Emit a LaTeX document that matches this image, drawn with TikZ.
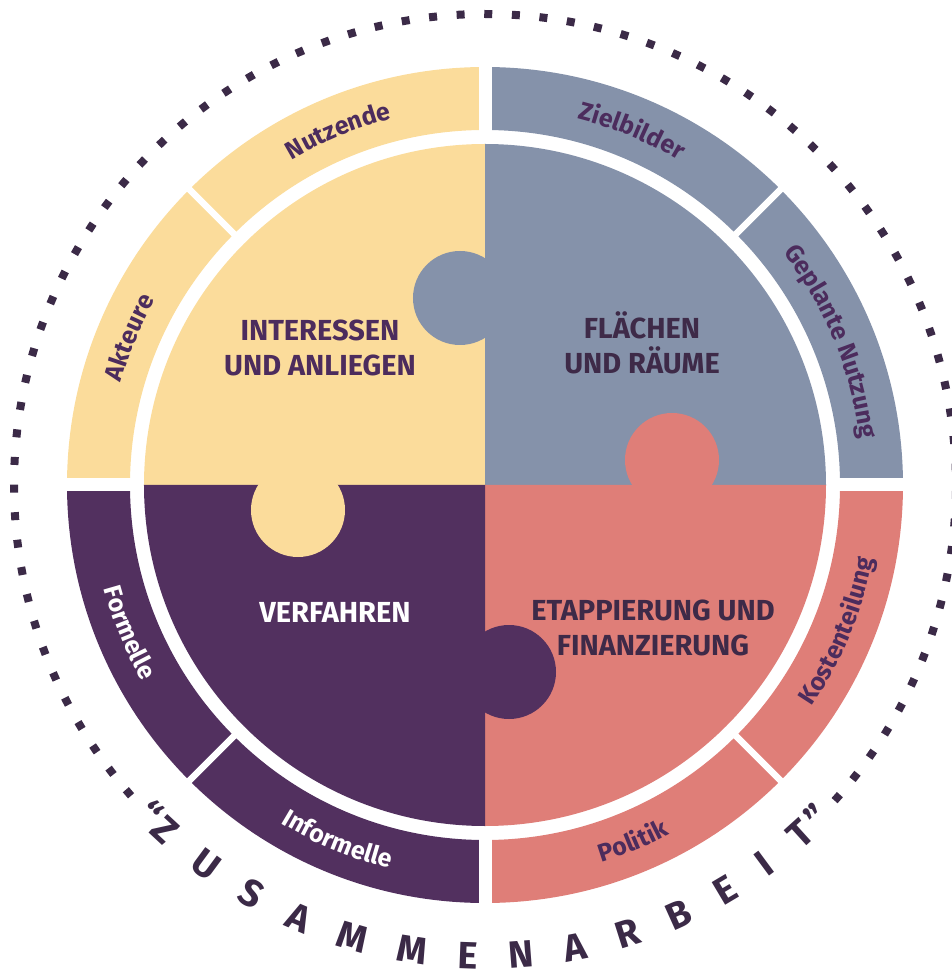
\documentclass[tikz,border=0pt]{standalone}
\usepackage{fontspec}
\setmainfont{Fira Sans}
\usetikzlibrary{decorations.text}

\definecolor{sand}{HTML}{FBDC9B}
\definecolor{slate}{HTML}{8592AA}
\definecolor{salmon}{HTML}{DF7E78}
\definecolor{plum}{HTML}{52305F}
\definecolor{ink}{HTML}{4C2C5D}
\definecolor{inkdark}{HTML}{3E2A48}
\definecolor{dotc}{HTML}{3B2A47}

\newcommand{\labelfont}{\fontsize{29}{35}\selectfont\bfseries}
\newcommand{\ringfont}{\fontsize{25}{25}\selectfont\bfseries}
\newcommand{\bandfont}{\fontsize{38}{38}\selectfont\bfseries}

\begin{document}
\begin{tikzpicture}[x=1pt,y=1pt]
\tikzstyle{every node}=[]
\tikzstyle{title}=[font=\labelfont, align=center, text=ink]
\tikzstyle{dotsq}=[fill=dotc, inner sep=0pt, minimum size=8pt]
\tikzstyle{quote}=[font=\bandfont, text=dotc, anchor=base, inner sep=0pt]
\tikzstyle{gap}=[white, line width=13pt]
\tikzstyle{cut}=[white, line width=6.5pt]

\useasboundingbox (-485,-489) rectangle (467,485);

\fill[sand] (90:355) arc[start angle=90, end angle=180, radius=355] -- (180:418) arc[start angle=180, end angle=90, radius=418] -- cycle;
\fill[slate] (0:355) arc[start angle=0, end angle=90, radius=355] -- (90:418) arc[start angle=90, end angle=0, radius=418] -- cycle;
\fill[salmon] (270:355) arc[start angle=270, end angle=360, radius=355] -- (0:418) arc[start angle=360, end angle=270, radius=418] -- cycle;
\fill[plum] (180:355) arc[start angle=180, end angle=270, radius=355] -- (270:418) arc[start angle=270, end angle=180, radius=418] -- cycle;

\draw[gap] (90:345) -- (90:425);
\draw[gap] (0:345) -- (0:425);
\draw[gap] (180:345) -- (180:425);
\draw[gap] (270:345) -- (270:425);
\draw[cut] (45:345) -- (45:425);
\draw[cut] (135:345) -- (135:425);
\draw[cut] (225:345) -- (225:425);
\draw[cut] (315:345) -- (315:425);

\fill[sand] (0,0) -- (90:341) arc[start angle=90, end angle=180, radius=341] -- cycle;
\fill[slate] (0,0) -- (0:341) arc[start angle=0, end angle=90, radius=341] -- cycle;
\fill[salmon] (0,0) -- (270:341) arc[start angle=270, end angle=360, radius=341] -- cycle;
\fill[plum] (0,0) -- (180:341) arc[start angle=180, end angle=270, radius=341] -- cycle;

\fill[slate] (-25,187) circle[radius=47];
\fill[salmon] (187,25) circle[radius=47];
\fill[sand] (-187,-25) circle[radius=47];
\fill[plum] (24,-187) circle[radius=47];

\node[title] (interessen) at (-165,137) {INTERESSEN\\UND ANLIEGEN};
\node[title, text=inkdark] (flaechen) at (157,142) {FLÄCHEN\\UND RÄUME};
\node[title, text=white] (verfahren) at (-150,-127) {VERFAHREN};
\node[title, text=inkdark] (etappierung) at (168,-143) {ETAPPIERUNG UND\\FINANZIERUNG};

\path[decorate, decoration={text along path, text align=center, text={|\ringfont\color{ink}|Nutzende}}] (132.5:378) arc[start angle=132.5, end angle=92.5, radius=378];
\path[decorate, decoration={text along path, text align=center, text={|\ringfont\color{ink}|Akteure}}] (177.5:378) arc[start angle=177.5, end angle=137.5, radius=378];
\path[decorate, decoration={text along path, text align=center, text={|\ringfont\color{ink}|Zielbilder}}] (87.5:378) arc[start angle=87.5, end angle=47.5, radius=378];
\path[decorate, decoration={text along path, text align=center, text={|\ringfont\color{ink}|Geplante Nutzung}}] (42.5:378) arc[start angle=42.5, end angle=2.5, radius=378];
\path[decorate, decoration={text along path, text align=center, text={|\ringfont\color{white}|Formelle}}] (182.5:395) arc[start angle=182.5, end angle=222.5, radius=395];
\path[decorate, decoration={text along path, text align=center, text={|\ringfont\color{white}|Informelle}}] (227.5:395) arc[start angle=227.5, end angle=267.5, radius=395];
\path[decorate, decoration={text along path, text align=center, text={|\ringfont\color{ink}|Politik}}] (272.5:395) arc[start angle=272.5, end angle=312.5, radius=395];
\path[decorate, decoration={text along path, text align=center, text={|\ringfont\color{ink}|Kostenteilung}}] (317.5:395) arc[start angle=317.5, end angle=357.5, radius=395];

\foreach \i in {0,...,78}
  \node[dotsq, rotate={220.8-\i*3.364}] (dot\i) at ({220.8-\i*3.364}:471) {};

\path[decorate, decoration={text along path, text align=fit to path, text={|\bandfont\color{dotc}|ZUSAMMENARBEIT}}] (225.9:484) arc[start angle=225.9, end angle=313.3, radius=484];
\node[quote, rotate=-45.6] (qopen) at (224.4:484) {“};
\node[quote, rotate=45] (qclose) at (315:484) {”};

\end{tikzpicture}
\end{document}
